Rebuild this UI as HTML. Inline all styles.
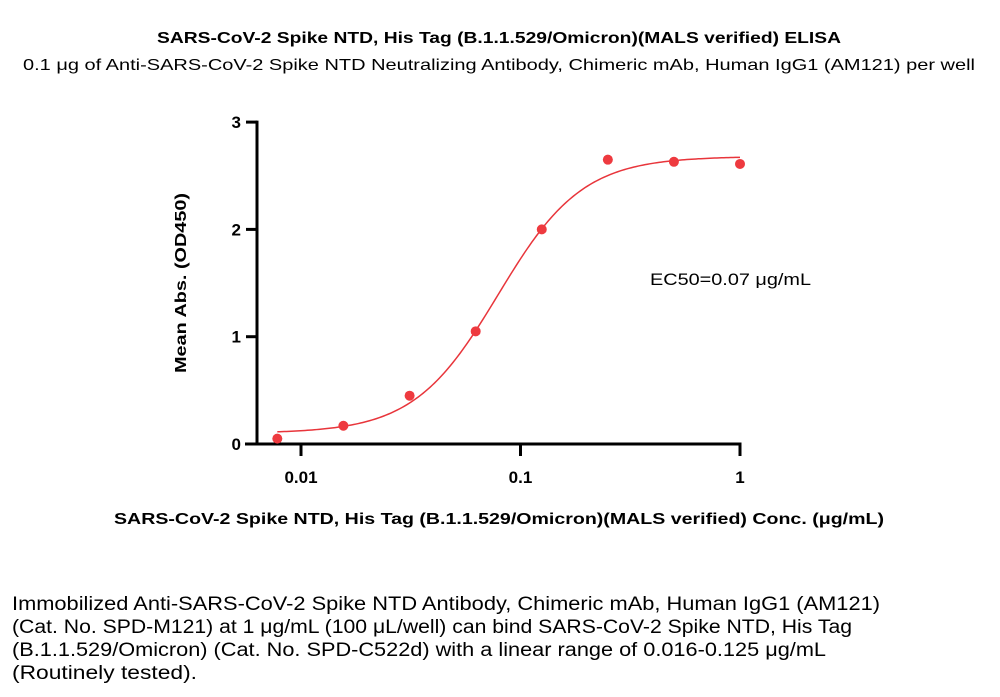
<!DOCTYPE html>
<html><head><meta charset="utf-8"><style>
html,body{margin:0;padding:0;background:#fff;width:1000px;height:697px;overflow:hidden}
text{font-family:"Liberation Sans",sans-serif}
</style></head><body>
<svg id="chart" width="1000" height="697" viewBox="0 0 1000 697" xmlns="http://www.w3.org/2000/svg">
<text x="499" y="43" text-anchor="middle" font-size="16" font-weight="bold" textLength="684" lengthAdjust="spacingAndGlyphs">SARS-CoV-2 Spike NTD, His Tag (B.1.1.529/Omicron)(MALS verified) ELISA</text>
<text x="499" y="70" text-anchor="middle" font-size="16" textLength="952" lengthAdjust="spacingAndGlyphs">0.1 μg of Anti-SARS-CoV-2 Spike NTD Neutralizing Antibody, Chimeric mAb, Human IgG1 (AM121) per well</text>
<text transform="translate(186,283) rotate(-90)" text-anchor="middle" font-size="16" font-weight="bold" textLength="180" lengthAdjust="spacingAndGlyphs">Mean Abs. (OD450)</text>
<text x="499" y="524" text-anchor="middle" font-size="16" font-weight="bold" textLength="770" lengthAdjust="spacingAndGlyphs">SARS-CoV-2 Spike NTD, His Tag (B.1.1.529/Omicron)(MALS verified)  Conc. (μg/mL)</text>
<text x="650" y="285" font-size="17" textLength="161" lengthAdjust="spacingAndGlyphs">EC50=0.07 μg/mL</text>
<g id="axes"></g>
<g id="marks"></g>
<g font-size="19">
<text x="12" y="610" textLength="868" lengthAdjust="spacingAndGlyphs">Immobilized Anti-SARS-CoV-2 Spike NTD Antibody, Chimeric mAb, Human IgG1 (AM121)</text>
<text x="12" y="633" textLength="840" lengthAdjust="spacingAndGlyphs">(Cat. No. SPD-M121) at 1 μg/mL (100 μL/well) can bind SARS-CoV-2 Spike NTD, His Tag</text>
<text x="12" y="656" textLength="814" lengthAdjust="spacingAndGlyphs">(B.1.1.529/Omicron) (Cat. No. SPD-C522d) with a linear range of 0.016-0.125 μg/mL</text>
<text x="12" y="679" textLength="185" lengthAdjust="spacingAndGlyphs">(Routinely tested).</text>
</g>
</svg>
<script>
const concentrations = [0.0078, 0.0156, 0.03125, 0.0625, 0.125, 0.25, 0.5, 1];
const absorbance = [0.05, 0.17, 0.45, 1.05, 2.0, 2.65, 2.63, 2.61];
const yTicks = [0, 1, 2, 3];
const xTicks = [0.01, 0.1, 1];
const xTickLabels = ["0.01", "0.1", "1"];
const fitParams = [0.1, 2.68, 0.079, 2.26]; // bottom, top, EC50, hill

const NS = "http://www.w3.org/2000/svg";
const X0 = 301, XDEC = 219.5, Y0 = 444, YU = 107.3;
function xs(v){ return X0 + (Math.log10(v) + 2) * XDEC; }
function ys(v){ return Y0 - v * YU; }
function mk(tag, attrs, parent){
  const e = document.createElementNS(NS, tag);
  for (const k in attrs) e.setAttribute(k, attrs[k]);
  parent.appendChild(e); return e;
}
const axes = document.getElementById('axes');
const marks = document.getElementById('marks');

const ya = mk('line', {x1:257, y1:ys(3)-1.5, x2:257, y2:Y0+1.5, stroke:'#000', 'stroke-width':3}, axes);


const xa = mk('line', {x1:245, y1:Y0, x2:xs(1)+1.5, y2:Y0, stroke:'#000', 'stroke-width':3}, axes);



yTicks.forEach(t => {
  const l = mk('line', {x1:246, y1:ys(t), x2:257, y2:ys(t), stroke:'#000', 'stroke-width':3}, axes);
  
  
  const tx = mk('text', {x:241, y:ys(t)+6, 'text-anchor':'end', 'font-size':17, 'font-weight':'bold'}, axes);
  tx.textContent = String(t);
  
  
});
xTicks.forEach((t, i) => {
  const l = mk('line', {x1:xs(t), y1:Y0, x2:xs(t), y2:Y0+12, stroke:'#000', 'stroke-width':3}, axes);
  
  
  const tx = mk('text', {x:xs(t), y:Y0+39, 'text-anchor':'middle', 'font-size':17, 'font-weight':'bold'}, axes);
  tx.textContent = xTickLabels[i];
  
  
});

const [b, tp, ec, h] = fitParams;
let d = '';
const lo = Math.log10(concentrations[0]), hi = Math.log10(concentrations[concentrations.length-1]);
for (let i = 0; i <= 200; i++) {
  const lx = lo + (hi - lo) * i / 200, x = Math.pow(10, lx);
  const y = b + (tp - b) / (1 + Math.pow(ec / x, h));
  d += (i ? 'L' : 'M') + xs(x).toFixed(2) + ' ' + ys(y).toFixed(2);
}
const curve = mk('path', {d:d, fill:'none', stroke:'#e8353b', 'stroke-width':1.5}, marks);



concentrations.forEach((c, i) => {
  const p = mk('circle', {cx:xs(c), cy:ys(absorbance[i]), r:5, fill:'#ee3a3f'}, marks);
  
  
});
</script>
</body></html>
